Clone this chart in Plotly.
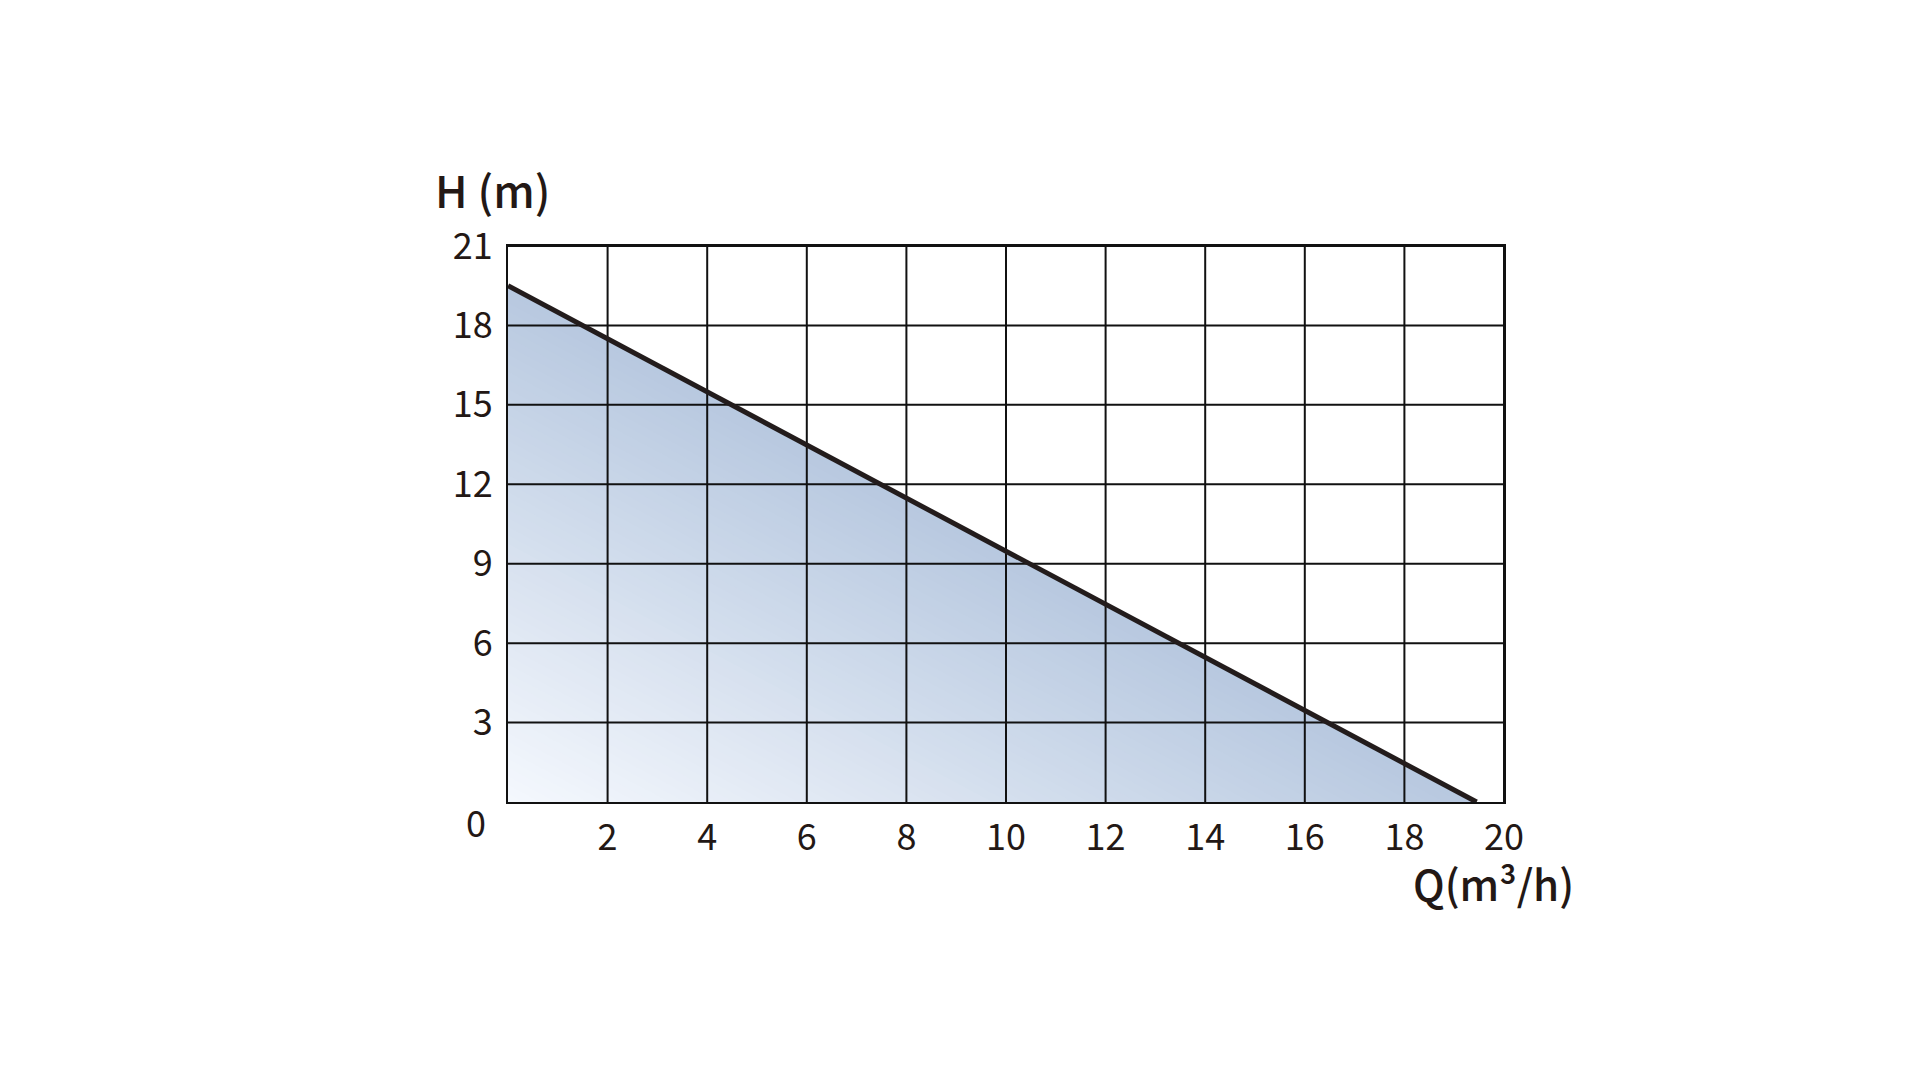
import plotly.graph_objects as go
import numpy as np

# Data
flow_q = [0.0, 19.45]          # Q (m3/h)
head_h = [19.5, 0.0]           # H (m)
x_ticks = [2, 4, 6, 8, 10, 12, 14, 16, 18, 20]
y_ticks = [3, 6, 9, 12, 15, 18, 21]
x_range = [0, 20]
y_range = [0, 21]

FONT = "Noto Sans CJK SC"
TXT = "#231815"
fig = go.Figure()

# Diagonal gradient fill under the curve: nested similar triangles
n_bands = 60
c_dark = np.array([0xB8, 0xC9, 0xE0])
c_light = np.array([0xF6, 0xF9, 0xFE])
for i in range(n_bands):
    s = 1 - i / n_bands
    c = (c_light + (c_dark - c_light) * s).astype(int)
    color = "rgb(%d,%d,%d)" % tuple(c)
    fig.add_trace(go.Scatter(
        x=[0, 0, flow_q[1] * s, 0],
        y=[0, head_h[0] * s, 0, 0],
        mode="lines", fill="toself", fillcolor=color,
        line=dict(width=0), hoverinfo="skip", showlegend=False))

# Grid lines drawn above the fill
for xv in x_ticks:
    fig.add_trace(go.Scatter(x=[xv, xv], y=y_range, mode="lines",
                             line=dict(color="#111111", width=2),
                             hoverinfo="skip", showlegend=False))
for yv in y_ticks:
    fig.add_trace(go.Scatter(x=x_range, y=[yv, yv], mode="lines",
                             line=dict(color="#111111", width=2),
                             hoverinfo="skip", showlegend=False))

# Pump curve
fig.add_trace(go.Scatter(x=flow_q, y=head_h, mode="lines",
                         line=dict(color="#231c1c", width=5),
                         showlegend=False))

fig.update_layout(
    width=1920, height=1080,
    margin=dict(l=500, r=424, t=238, b=286),
    paper_bgcolor="white", plot_bgcolor="white",
    font=dict(family=FONT, color=TXT, size=36),
    xaxis=dict(range=x_range, tickvals=x_ticks, ticktext=[str(v) for v in x_ticks],
               showgrid=False, zeroline=False, showline=True, mirror=True,
               linecolor="#111111", linewidth=2, ticks="", ticklabelstandoff=3,
               tickfont=dict(size=36, family=FONT, color=TXT)),
    yaxis=dict(range=y_range, tickvals=y_ticks, ticktext=[str(v) for v in y_ticks],
               showgrid=False, zeroline=False, showline=True, mirror=True,
               linecolor="#111111", linewidth=2, ticks="", ticklabelstandoff=6,
               tickfont=dict(size=36, family=FONT, color=TXT)),
    annotations=[
        dict(text="0", x=0, y=0, xref="x", yref="y", xanchor="right", yanchor="middle",
             xshift=-20, yshift=-19, showarrow=False,
             font=dict(size=36, family=FONT, color=TXT)),
        dict(text="H (m)", x=0, y=21, xref="x", yref="y", xanchor="center", yanchor="middle",
             xshift=-16, yshift=57, showarrow=False,
             font=dict(size=44, family=FONT, color=TXT, weight=500)),
        dict(text="Q(m³/h)", x=20, y=0, xref="x", yref="y", xanchor="right",
             yanchor="middle", xshift=72, yshift=-80, showarrow=False,
             font=dict(size=42, family=FONT, color=TXT, weight=500)),
    ],
)

fig.write_html("out.html")
